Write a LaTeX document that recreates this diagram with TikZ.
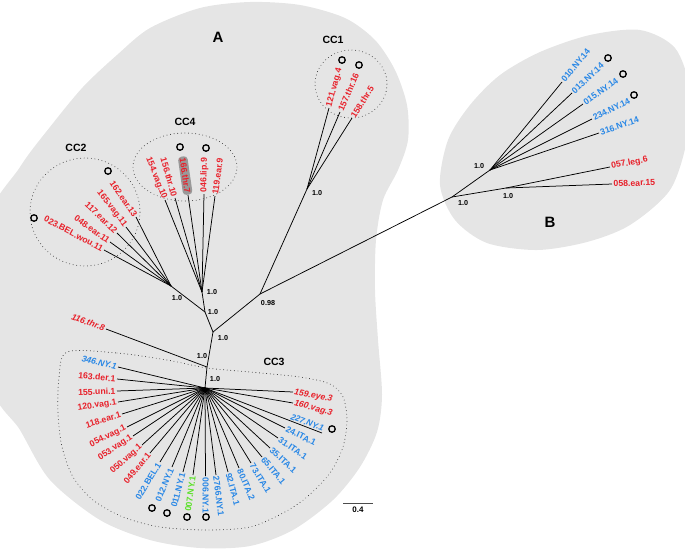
\documentclass[tikz,border=0pt]{standalone}
\usepackage{fontspec}
\setmainfont{Liberation Sans}
\usepackage{tikz}
\usetikzlibrary{calc}
\definecolor{tipred}{RGB}{232,32,42}
\definecolor{tipblue}{RGB}{40,135,230}
\definecolor{tipgreen}{RGB}{90,225,40}
\definecolor{areagray}{RGB}{229,229,229}

\begin{document}
\begin{tikzpicture}[
    x=1pt, y=-1pt,
    branch/.style={draw=black, line width=0.75pt},
    leafL/.style={pos=1, sloped, anchor=east, inner sep=1.2pt,
                  font=\fontsize{8.7}{9}\selectfont\bfseries},
    leafR/.style={pos=1, sloped, anchor=west, inner sep=1.2pt,
                  font=\fontsize{8.7}{9}\selectfont\bfseries},
    supp/.style={font=\fontsize{7.2}{8}\selectfont\bfseries, inner sep=0pt},
    clade/.style={font=\fontsize{10.5}{12}\selectfont\bfseries, inner sep=0pt},
    group/.style={font=\fontsize{15}{17}\selectfont\bfseries, inner sep=0pt},
    ring/.style={circle, draw=black, line width=1.3pt, minimum size=6.5pt, inner sep=0pt},
    hull/.style={draw=black!85, line width=0.9pt, line cap=round, dash pattern=on 0pt off 3.6pt}
]

\useasboundingbox (0,0) rectangle (685,550);
\clip (0,0) rectangle (685,550);

% ================= GROUP AREAS =================
\fill[areagray] plot[smooth cycle] coordinates {(-15,230) (20,167) (50,127) (83,87) (117,55)
    (150,28) (200,8) (250,2) (300,5) (345,18) (375,40) (395,70) (407,105) (408,140) (398,170)
    (383,200) (376,240) (375,290) (378,340) (382,395) (377,432) (360,467) (333,500) (293,530)
    (250,546) (200,548) (150,540) (100,520) (50,480) (20,430) (-10,380)};
\fill[areagray] plot[smooth cycle] coordinates {(440,185) (448,140) (470,105) (500,75) (540,52)
    (590,35) (640,30) (675,48) (690,90) (687,140) (670,190) (630,225) (587,242) (537,250)
    (487,243) (455,220)};

% ================= CLONAL COMPLEX HULLS =================
\draw[hull] (85,212) ellipse [x radius=55pt, y radius=54pt];
\draw[hull] (185,167) ellipse [x radius=52pt, y radius=34pt];
\draw[hull] (351,84) ellipse [x radius=36pt, y radius=34pt];
\draw[hull] plot[smooth cycle] coordinates {(67,352) (117,353) (167,360) (207,368) (250,372)
    (300,377) (330,384) (343,397) (347,420) (343,447) (330,473) (307,497) (283,513) (250,527)
    (207,530) (160,527) (123,517) (93,500) (73,477) (62,447) (58,413) (59,378)};

% ================= INNER NODES =================
\coordinate (cc3) at (205,388);
\coordinate (n116) at (207,367);
\coordinate (root) at (213,332);
\coordinate (nA) at (205,312);
\coordinate (cc4) at (202,292);
\coordinate (cc2) at (171,286);
\coordinate (n98) at (260,294);
\coordinate (cc1) at (307,189);
\coordinate (nB) at (452,197);
\coordinate (nNY) at (490,170);
\coordinate (nleg) at (506,188);

\draw[branch] (cc3) -- (n116) -- (root) -- (nA) -- (cc4);
\draw[branch] (nA) -- (cc2);
\draw[branch] (root) -- (n98) -- (cc1);
\draw[branch] (n98) -- (nB) -- (nNY);
\draw[branch] (nB) -- (nleg);

% ================= LEAVES =================
\draw[branch] (n116) -- node[leafL, text=tipred] (l116) {\itshape 116.thr.8} (106,329) coordinate (t116);

% CC2
\draw[branch] (cc2) -- (136,217) coordinate (t162);
\node[anchor=east, rotate=-56, inner sep=1.2pt, text=tipred,
    font=\fontsize{8.7}{9}\selectfont\bfseries] (l162) at (t162) {162.ear.13};
\foreach \x/\y/\txt [count=\i] in {126/227/165.vag.11, 117/233/117.ear.12,
    110/242/048.ear.11, 104/250/023.BEL.wou.11}
  \draw[branch] (cc2) -- node[leafL, text=tipred] (cc2l\i) {\txt} (\x,\y) coordinate (cc2t\i);

% CC4
\foreach \x/\y/\txt [count=\i] in {165/200/154.vag.10, 175/198/156.thr.10}
  \draw[branch] (cc4) -- node[leafL, text=tipred] (cc4l\i) {\txt} (\x,\y) coordinate (cc4t\i);
\draw[branch] (cc4) -- node[leafL, text=tipred, fill=black!40, rounded corners=3.5pt,
    inner sep=1.6pt] (l166) {166.thr.7} (188,195) coordinate (t166);
\foreach \x/\y/\txt [count=\i] in {204/194/046.lip.9, 215/196/119.ear.9}
  \draw[branch] (cc4) -- node[leafR, text=tipred] (cc4r\i) {\txt} (\x,\y) coordinate (cc4u\i);

% CC1
\foreach \x/\y/\txt [count=\i] in {329/108/121.vag.4, 340/112/157.thr.16, 352/118/158.thr.5}
  \draw[branch] (cc1) -- node[leafR, text=tipred] (cc1l\i) {\txt} (\x,\y) coordinate (cc1t\i);

% B
\foreach \x/\y/\txt [count=\i] in {562/82/010.NY.14, 572/93/013.NY.14, 583/104/015.NY.14,
    592/119/234.NY.14, 599/133/316.NY.14}
  \draw[branch] (nNY) -- node[leafR, text=tipblue] (nyl\i) {\txt} (\x,\y) coordinate (nyt\i);
\foreach \x/\y/\txt [count=\i] in {610/167/057.leg.6, 612/184/058.ear.15}
  \draw[branch] (nleg) -- node[leafR, text=tipred] (legl\i) {\txt} (\x,\y) coordinate (legt\i);

% CC3
\foreach \x/\y/\txt/\col [count=\i] in {118/367/{\itshape 346.NY.1}/tipblue,
    117/379/163.der.1/tipred, 117/391/155.uni.1/tipred, 118/402/120.vag.1/tipred,
    122/414/118.ear.1/tipred, 127/427/054.vag.1/tipred, 133/436/053.vag.1/tipred,
    142/445/050.vag.1/tipred, 150/453/049.ear.1/tipred, 160/462/022.BEL.1/tipblue,
    172/467/012.NY.1/tipblue, 183/472/011.NY.1/tipblue, 193/475/007.NY.1/tipgreen}
  \draw[branch] (cc3) -- node[leafL, text=\col] (cc3l\i) {\txt} (\x,\y) coordinate (cc3t\i);
\foreach \x/\y/\txt [count=\i] in {205.5/476/006.NY.1, 216/475/2766.NY.1, 228/472/92.ITA.1,
    239/468/80.ITA.2, 251/463/73.ITA.1, 262/457/65.ITA.1, 270/448/35.ITA.1,
    278/438/31.ITA.1, 285/428/24.ITA.1}
  \draw[branch] (cc3) -- node[leafR, text=tipblue] (cc3r\i) {\txt} (\x,\y) coordinate (cc3u\i);
\draw[branch] (cc3) -- node[pos=0.71, sloped, anchor=south west, inner sep=1.2pt, text=tipblue,
    font=\fontsize{8.5}{9}\selectfont\bfseries\itshape] (l227) {227.NY.1} (322,433) coordinate (t227);
\draw[branch] (cc3) -- (293,403) coordinate (t160);
\node[anchor=west, rotate=-15, inner sep=1.2pt, text=tipred,
    font=\fontsize{8.7}{9}\selectfont\bfseries\itshape] (l160) at (t160) {160.vag.3};
\draw[branch] (cc3) -- (293,392) coordinate (t159);
\node[anchor=west, rotate=-11, inner sep=1.2pt, text=tipred,
    font=\fontsize{8.7}{9}\selectfont\bfseries\itshape] (l159) at (t159) {159.eye.3};

% ================= MARKERS =================
\foreach \x/\y [count=\i] in {108/171, 34/218, 180/147, 206/148, 342/60, 359/65, 608/58,
    623/74, 634/95, 332/429, 152/508, 167/513, 187/517, 206/517}
  \node[ring] (ring\i) at (\x,\y) {};

% ================= SUPPORT VALUES =================
\node[supp] (s1) at (177,298) {1.0};
\node[supp] (s2) at (212,292) {1.0};
\node[supp] (s3) at (213,312) {1.0};
\node[supp] (s4) at (223,338) {1.0};
\node[supp] (s5) at (268,303) {0.98};
\node[supp] (s6) at (317,193) {1.0};
\node[supp] (s7) at (202,356) {1.0};
\node[supp] (s8) at (215,379) {1.0};
\node[supp] (s9) at (463,203) {1.0};
\node[supp] (s10) at (479,166) {1.0};
\node[supp] (s11) at (508,196) {1.0};

% ================= TITLES =================
\node[group] (gA) at (218,37) {A};
\node[group] (gB) at (550,222) {B};
\node[clade] (c1) at (333,40) {CC1};
\node[clade] (c2) at (76,148) {CC2};
\node[clade] (c3) at (274,362) {CC3};
\node[clade] (c4) at (185,122) {CC4};

% ================= SCALE =================
\coordinate (sb1) at (343,503);
\coordinate (sb2) at (373,503);
\draw[line width=0.8pt, draw=black!70] (sb1) -- node[supp, below=4pt,
    font=\fontsize{8}{9}\selectfont\bfseries] (sbl) {0.4} (sb2);

\end{tikzpicture}
\end{document}
